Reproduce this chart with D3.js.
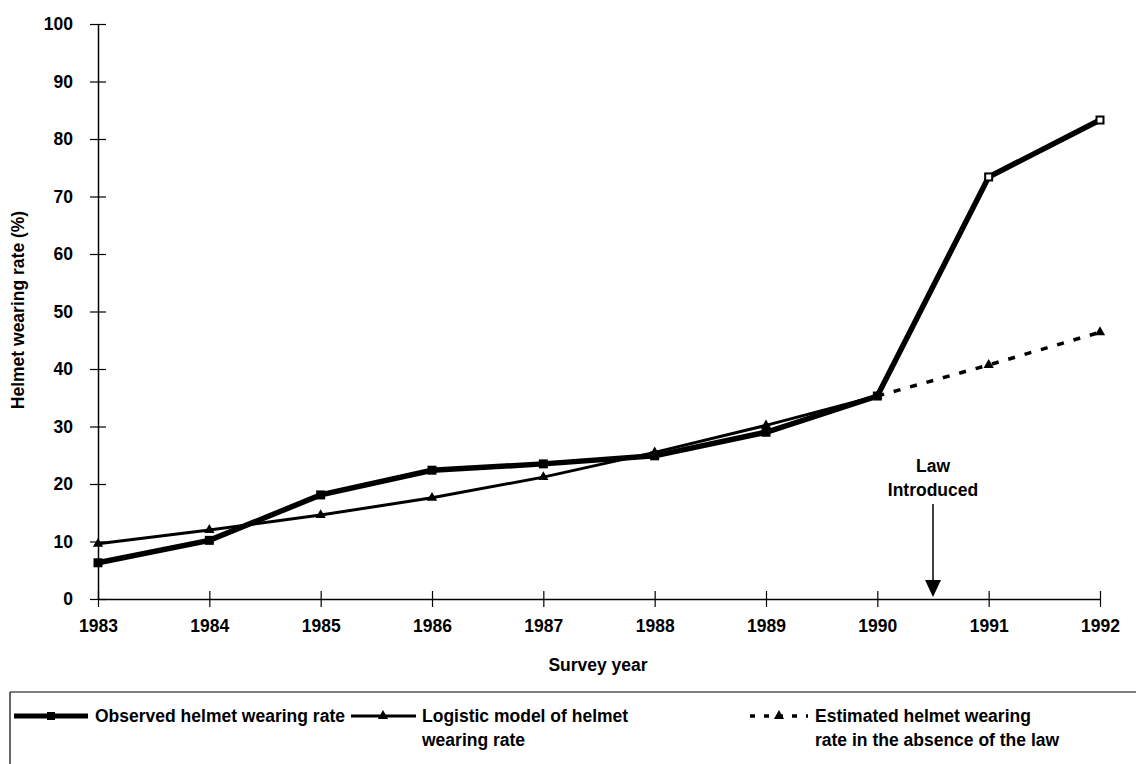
<!DOCTYPE html>
<html><head><meta charset="utf-8">
<script src="https://cdn.jsdelivr.net/npm/d3@7"></script>
<style>body{margin:0;background:#fff}svg{display:block}text{font-family:"Liberation Sans",Arial,sans-serif;font-weight:bold;fill:#000}</style>
</head><body><svg id="c" width="1136" height="764"></svg>
<script>
const years = [1983,1984,1985,1986,1987,1988,1989,1990,1991,1992];
const observed = [6.3,10.2,18.1,22.4,23.5,24.9,29.0,35.3,73.4,83.3];
const logistic = [9.6,12.0,14.6,17.6,21.2,25.5,30.2,35.3];
const estYears = [1990,1991,1992];
const estimated = [35.3,40.7,46.4];
const yTicks = [0,10,20,30,40,50,60,70,80,90,100];
const lawYear = 1990.5;

const FS = "17.5px";
const svg = d3.select("#c");
const x = d3.scaleLinear().domain([1983,1992]).range([98,1100]);
const y = d3.scaleLinear().domain([0,100]).range([599,24]);

const ya = svg.append("g").attr("transform","translate(98,0)")
  .call(d3.axisLeft(y).tickValues(yTicks).tickSize(0).tickPadding(25));
ya.select(".domain").attr("stroke","#000").attr("stroke-width",1.5);
ya.selectAll("text").style("font-size",FS);
ya.selectAll(".tick").append("line").attr("x1",-8).attr("x2",8).attr("stroke","#000").attr("stroke-width",1.2);

const xa = svg.append("g").attr("transform","translate(0,599)")
  .call(d3.axisBottom(x).tickValues(years).tickFormat(d3.format("d")).tickSize(0).tickPadding(21));
xa.select(".domain").attr("stroke","#000").attr("stroke-width",1.5);
xa.selectAll("text").style("font-size",FS);
xa.selectAll(".tick").append("line").attr("y1",-8).attr("y2",8).attr("stroke","#000").attr("stroke-width",1.2);

svg.append("text").attr("x",598).attr("y",671).attr("text-anchor","middle").style("font-size",FS).text("Survey year");
svg.append("text").attr("transform","translate(24,310) rotate(-90)").attr("text-anchor","middle").style("font-size",FS).text("Helmet wearing rate (%)");

const line = d3.line().x(d=>x(d[0])).y(d=>y(d[1]));
const obsData = years.map((d,i)=>[d,observed[i]]);
const logData = logistic.map((v,i)=>[years[i],v]);
const estData = estYears.map((d,i)=>[d,estimated[i]]);

svg.append("path").datum(estData).attr("d",line).attr("fill","none").attr("stroke","#000").attr("stroke-width",3.5).attr("stroke-dasharray","7,10");
svg.append("path").datum(logData).attr("d",line).attr("fill","none").attr("stroke","#000").attr("stroke-width",3);
svg.append("path").datum(obsData).attr("d",line).attr("fill","none").attr("stroke","#000").attr("stroke-width",5.5);

const tri = d3.symbol().type(d3.symbolTriangle).size(45);
svg.selectAll(".lt").data(logData).join("path").attr("transform",d=>`translate(${x(d[0])},${y(d[1])})`).attr("d",tri).attr("fill","#000");
svg.selectAll(".et").data(estData.slice(1)).join("path").attr("transform",d=>`translate(${x(d[0])},${y(d[1])})`).attr("d",tri).attr("fill","#000");
svg.selectAll(".os").data(obsData).join("rect").attr("x",d=>x(d[0])-3.5).attr("y",d=>y(d[1])-3.5).attr("width",7).attr("height",7)
  .attr("fill",(d,i)=>i>=8?"#fff":"#000").attr("stroke","#000").attr("stroke-width",2);

const lx = x(lawYear);
svg.append("text").attr("x",lx).attr("y",472).attr("text-anchor","middle").style("font-size",FS).text("Law");
svg.append("text").attr("x",lx).attr("y",496).attr("text-anchor","middle").style("font-size",FS).text("Introduced");
svg.append("line").attr("x1",lx).attr("x2",lx).attr("y1",504).attr("y2",582).attr("stroke","#000").attr("stroke-width",1.5);
svg.append("path").attr("d",`M${lx-8},580 L${lx+8},580 L${lx},597 Z`).attr("fill","#000");

svg.append("line").attr("x1",10).attr("x2",1136).attr("y1",692).attr("y2",692).attr("stroke","#000").attr("stroke-width",1.2);
svg.append("line").attr("x1",10).attr("x2",10).attr("y1",692).attr("y2",764).attr("stroke","#000").attr("stroke-width",1.2);
const ly = 716;
svg.append("line").attr("x1",14).attr("x2",88).attr("y1",ly).attr("y2",ly).attr("stroke","#000").attr("stroke-width",5);
svg.append("rect").attr("x",47).attr("y",ly-4).attr("width",8).attr("height",8).attr("fill","#000");
svg.append("text").attr("x",95).attr("y",ly+6).style("font-size",FS).text("Observed helmet wearing rate");
svg.append("line").attr("x1",351).attr("x2",416).attr("y1",ly).attr("y2",ly).attr("stroke","#000").attr("stroke-width",3);
svg.append("path").attr("transform",`translate(383,${ly})`).attr("d",tri).attr("fill","#000");
svg.append("text").attr("x",422).attr("y",ly+6).style("font-size",FS).text("Logistic model of helmet");
svg.append("text").attr("x",422).attr("y",ly+30).style("font-size",FS).text("wearing rate");
svg.append("line").attr("x1",750).attr("x2",808).attr("y1",ly).attr("y2",ly).attr("stroke","#000").attr("stroke-width",3.5).attr("stroke-dasharray","5,9");
svg.append("path").attr("transform",`translate(779,${ly})`).attr("d",tri).attr("fill","#000");
svg.append("text").attr("x",815).attr("y",ly+6).style("font-size",FS).text("Estimated helmet wearing");
svg.append("text").attr("x",815).attr("y",ly+30).style("font-size",FS).text("rate in the absence of the law");
</script></body></html>
